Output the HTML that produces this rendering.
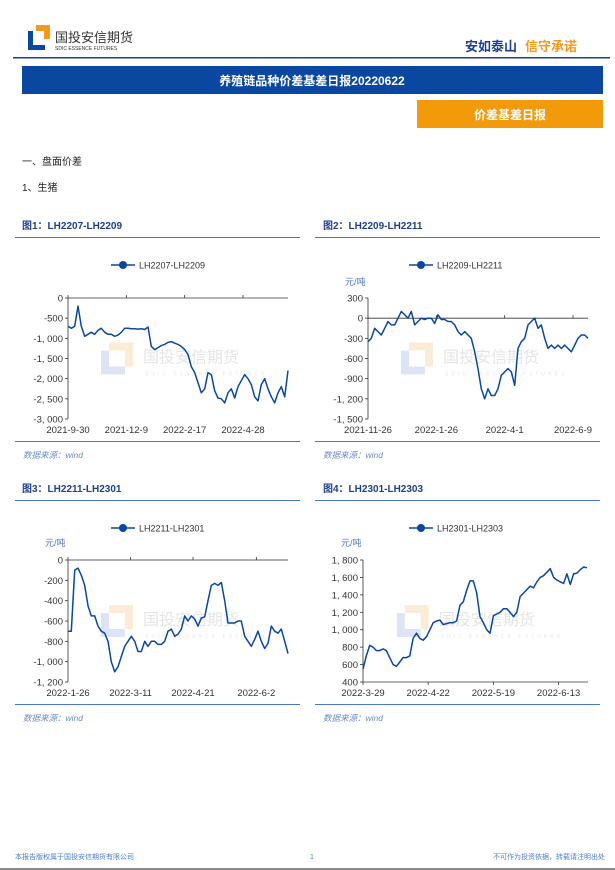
<!DOCTYPE html>
<html><head><meta charset="utf-8"><style>
body{margin:0;width:615px;height:870px;background:#fff;overflow:hidden;font-family:"Liberation Sans","Noto Sans CJK SC",sans-serif;}
svg{position:absolute;left:0;top:0;}
</style></head><body>
<svg id="page" width="615" height="870" viewBox="0 0 615 870">
<g>
<rect x="28" y="31" width="17" height="19" fill="#0a48a0"/>
<rect x="33" y="31" width="12" height="14" fill="#fff"/>
<rect x="36" y="25" width="14" height="6" fill="#f39a1e"/>
<rect x="44" y="25" width="6" height="14" fill="#f39a1e"/>
<text x="55" y="42" font-size="13" fill="#333" font-family="Liberation Sans,Noto Sans CJK SC,sans-serif">国投安信期货</text>
<text x="55" y="50" font-size="5" fill="#333">SDIC ESSENCE FUTURES</text>
</g>
<text x="465" y="51" font-size="13" font-weight="bold" fill="#1d3f8f">安如泰山</text>
<text x="525" y="51" font-size="13" font-weight="bold" fill="#f39a1e">信守承诺</text>
<rect x="13" y="57" width="597" height="1.5" fill="#1d3f8f"/>
<rect x="22" y="66" width="581" height="28" fill="#0a47a0"/>
<text x="312" y="85" font-size="12" font-weight="bold" fill="#fff" text-anchor="middle">养殖链品种价差基差日报20220622</text>
<rect x="417" y="100" width="186" height="28" fill="#f39a0a"/>
<text x="510" y="119" font-size="12" font-weight="bold" fill="#fff" text-anchor="middle">价差基差日报</text>
<text x="22" y="165" font-size="10" fill="#222">一、盘面价差</text>
<text x="22" y="191" font-size="10" fill="#222">1、生猪</text>
<g id="charts"></g>
<text x="15" y="859" font-size="7" fill="#4a7fd6">本报告版权属于国投安信期货有限公司</text>
<text x="312" y="859" font-size="7" fill="#4a7fd6" text-anchor="middle">1</text>
<text x="605" y="859" font-size="7" fill="#4a7fd6" text-anchor="end">不可作为投资依据，转载请注明出处</text>
<rect x="0" y="868" width="615" height="2" fill="#888"/>
</svg>
<script>
const values1=[-700,-750,-700,-200,-700,-950,-900,-850,-900,-800,-750,-850,-900,-900,-950,-920,-850,-750,-750,-760,-760,-770,-760,-780,-720,-1200,-1280,-1230,-1180,-1150,-1100,-1080,-1120,-1150,-1200,-1280,-1400,-1700,-1850,-2100,-2350,-2250,-1850,-1900,-2300,-2480,-2500,-2600,-2350,-2250,-2480,-2200,-2050,-1900,-2000,-2150,-2450,-2550,-2150,-2000,-2250,-2450,-2600,-2350,-2200,-2450,-1800];
const ticks1=["2021-9-30","2021-12-9","2022-2-17","2022-4-28"];
const tickIdx1=[0,17.5,35,52.5];
const yTicks1=[0,-500,-1000,-1500,-2000,-2500,-3000];
const values2=[-350,-300,-150,-200,-250,-150,-50,-100,-100,0,100,50,0,100,-100,-50,0,-20,0,0,-80,50,-20,-20,-50,-50,-100,-200,-250,-200,-250,-300,-500,-750,-1050,-1200,-1050,-1150,-1150,-1050,-850,-800,-750,-800,-1000,-450,-350,-300,-100,-50,0,-150,-100,-300,-450,-400,-450,-400,-450,-400,-450,-500,-400,-300,-250,-250,-300];
const ticks2=["2021-11-26","2022-1-26","2022-4-1","2022-6-9"];
const tickIdx2=[0,20.5,41,61.5];
const yTicks2=[300,0,-300,-600,-900,-1200,-1500];
const values3=[-700,-700,-100,-80,-150,-250,-450,-550,-550,-650,-700,-720,-800,-1000,-1100,-1050,-950,-850,-800,-750,-800,-900,-900,-800,-850,-800,-800,-830,-830,-800,-700,-680,-750,-730,-680,-550,-600,-550,-580,-650,-570,-560,-400,-250,-230,-250,-220,-400,-620,-620,-620,-600,-600,-750,-800,-850,-780,-700,-800,-870,-820,-650,-700,-720,-680,-800,-920];
const ticks3=["2022-1-26","2022-3-11","2022-4-21","2022-6-2"];
const tickIdx3=[0,18.8,37.5,56.5];
const yTicks3=[0,-200,-400,-600,-800,-1000,-1200];
const values4=[550,700,820,800,760,760,780,760,680,600,580,630,680,680,700,900,960,900,880,920,1000,1080,1100,1110,1060,1070,1080,1080,1100,1280,1320,1450,1560,1560,1420,1150,1080,1000,960,1160,1180,1200,1240,1240,1200,1150,1200,1380,1420,1460,1500,1480,1550,1600,1620,1660,1700,1600,1570,1550,1530,1640,1520,1640,1650,1690,1720,1710];
const ticks4=["2022-3-29","2022-4-22","2022-5-19","2022-6-13"];
const tickIdx4=[0,19.5,39,58.5];
const yTicks4=[1800,1600,1400,1200,1000,800,600,400];

const NS="http://www.w3.org/2000/svg";
const root=document.getElementById('charts');
function mk(tag,attrs,parent,txt){const e=document.createElementNS(NS,tag);for(const k in attrs)e.setAttribute(k,attrs[k]);if(txt!==undefined)e.textContent=txt;parent.appendChild(e);return e;}
function fmt(v){const s=Math.abs(v).toLocaleString('en-US').replace(/,/g,', ');return (v<0?'-':'')+s;}
function chart(cfg){
  const g=mk('g',{},root);
  
  
  const t=mk('text',{x:cfg.tx,y:cfg.ty,'font-size':10,'font-weight':'bold',fill:'#1d3f8f'},g,cfg.title);
  
  
  const r1=mk('rect',{x:cfg.lx0,y:cfg.ty+8,width:cfg.lx1-cfg.lx0,height:1,fill:'#4a78c8'},g);
  
  
  // watermark
  const wm=mk('g',{opacity:0.25},g);
  
  
  const cx=cfg.x0+(cfg.x1-cfg.x0)*0.15, cy=(cfg.y0+cfg.y1)/2;
  mk('rect',{x:cx,y:cy-8,width:24,height:24,fill:'#7a98d8'},wm);
  mk('rect',{x:cx+8,y:cy-8,width:16,height:16,fill:'#fff'},wm);
  mk('rect',{x:cx+8,y:cy-16,width:24,height:8,fill:'#f5b460'},wm);
  mk('rect',{x:cx+24,y:cy-16,width:8,height:24,fill:'#f5b460'},wm);
  mk('text',{x:cx+42,y:cy+4,'font-size':16,fill:'#999'},wm,'国投安信期货');
  mk('text',{x:cx+44,y:cy+17,'font-size':5,fill:'#999','letter-spacing':3},wm,'SDIC ESSENCE FUTURES');
  // legend
  const lg=mk('g',{},g);
  
  
  mk('line',{x1:cfg.legx-12,y1:cfg.legy,x2:cfg.legx+12,y2:cfg.legy,stroke:'#0a47a0','stroke-width':1.5},lg);
  mk('circle',{cx:cfg.legx,cy:cfg.legy,r:4,fill:'#0a47a0'},lg);
  mk('text',{x:cfg.legx+16,y:cfg.legy+3.5,'font-size':9,fill:'#333'},lg,cfg.series);
  if(cfg.unit){const u=mk('text',{x:cfg.ux,y:cfg.uy,'font-size':9,fill:'#4a78c8'},g,'元/吨');}
  const ymax=cfg.yt[0], ymin=cfg.yt[cfg.yt.length-1];
  const ys=v=>cfg.y0+(ymax-v)/(ymax-ymin)*(cfg.y1-cfg.y0);
  const n=cfg.vals.length;
  const xs=i=>cfg.x0+i/(n-1)*(cfg.xe-cfg.x0);
  const ya=mk('line',{x1:cfg.x0,y1:cfg.y0,x2:cfg.x0,y2:cfg.y1,stroke:'#333','stroke-width':0.8},g);
  
  
  cfg.yt.forEach(v=>{
    const y=ys(v);
    mk('line',{x1:cfg.x0-3,y1:y,x2:cfg.x0,y2:y,stroke:'#333','stroke-width':0.8},g);
    const tl=mk('text',{x:cfg.x0-5,y:y+3.5,'font-size':9.5,fill:'#333','text-anchor':'end'},g,fmt(v));
    
    
  });
  const ay=ys(cfg.axisVal);
  const xa=mk('line',{x1:cfg.x0,y1:ay,x2:cfg.x1,y2:ay,stroke:'#333','stroke-width':0.8},g);
  
  
  cfg.ticks.forEach((lab,k)=>{
    const x=xs(cfg.tickIdx[k]);
    mk('line',{x1:x,y1:ay,x2:x,y2:ay+(cfg.axisVal===ymin?3:-3),stroke:'#333','stroke-width':0.8},g);
    const tl=mk('text',{x:x,y:cfg.y1+14,'font-size':9.5,fill:'#333','text-anchor':'middle'},g,lab);
    
    
  });
  const d=cfg.vals.map((v,i)=>(i?'L':'M')+xs(i).toFixed(1)+' '+ys(v).toFixed(1)).join(' ');
  const p=mk('path',{d:d,fill:'none',stroke:'#0a47a0','stroke-width':1.5,'stroke-linejoin':'round'},g);
  
  
  const r2=mk('rect',{x:cfg.lx0,y:cfg.y1+22,width:cfg.lx1-cfg.lx0,height:1,fill:'#4a78c8'},g);
  
  
  const s=mk('text',{x:cfg.lx0+8,y:cfg.y1+39,'font-size':8.5,fill:'#6a8ccc','font-style':'italic'},g,'数据来源：wind');
  
  
}
chart({name:'chart-lh2207-lh2209',title:'图1：LH2207-LH2209',tx:22,ty:229,lx0:15,lx1:300,series:'LH2207-LH2209',legx:123,legy:265,vals:values1,ticks:ticks1,tickIdx:tickIdx1,yt:yTicks1,x0:68,x1:288,xe:288,y0:298,y1:419,axisVal:0});
chart({name:'chart-lh2209-lh2211',title:'图2：LH2209-LH2211',tx:323,ty:229,lx0:315,lx1:600,series:'LH2209-LH2211',legx:421,legy:265,unit:true,ux:345,uy:285,vals:values2,ticks:ticks2,tickIdx:tickIdx2,yt:yTicks2,x0:368,x1:588,xe:588,y0:298,y1:419,axisVal:0});
chart({name:'chart-lh2211-lh2301',title:'图3：LH2211-LH2301',tx:22,ty:492,lx0:15,lx1:300,series:'LH2211-LH2301',legx:123,legy:528,unit:true,ux:45,uy:546,vals:values3,ticks:ticks3,tickIdx:tickIdx3,yt:yTicks3,x0:68,x1:288,xe:288,y0:560,y1:682,axisVal:0});
chart({name:'chart-lh2301-lh2303',title:'图4：LH2301-LH2303',tx:323,ty:492,lx0:315,lx1:600,series:'LH2301-LH2303',legx:421,legy:528,unit:true,ux:341,uy:546,vals:values4,ticks:ticks4,tickIdx:tickIdx4,yt:yTicks4,x0:363,x1:588,xe:587,y0:560,y1:682,axisVal:400});
</script>
</body></html>
